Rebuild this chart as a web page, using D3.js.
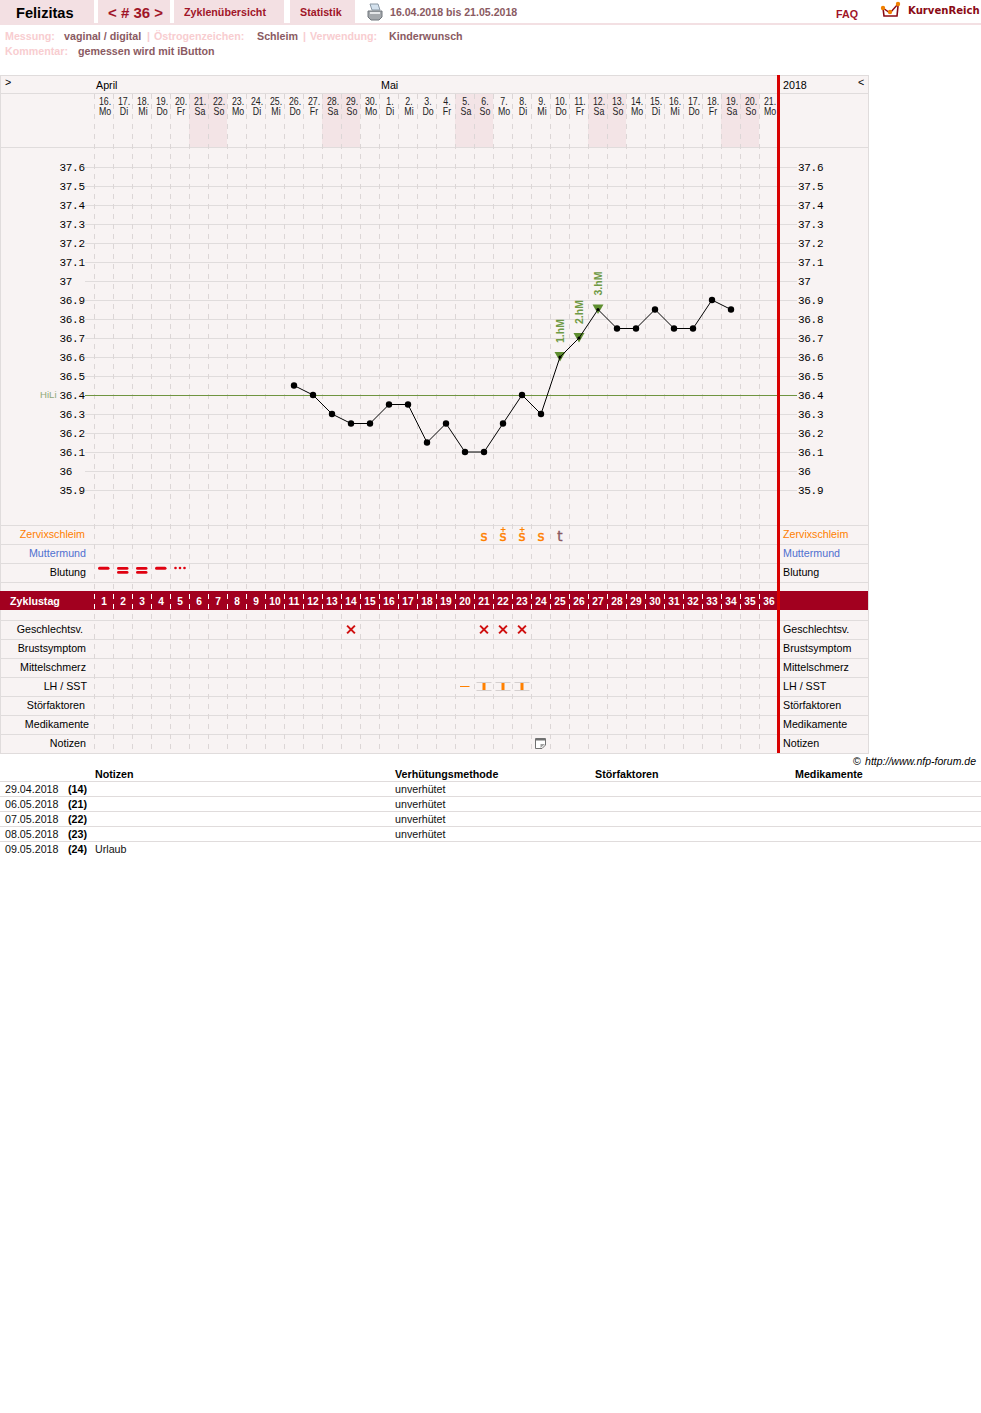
<!DOCTYPE html>
<html lang="de">
<head>
<meta charset="utf-8">
<title>Felizitas – Zyklus 36</title>
<script src="https://cdnjs.cloudflare.com/ajax/libs/d3/7.9.0/d3.min.js"></script>
<style>
  html, body { margin: 0; padding: 0; background: #fff; }
  svg { display: block; }
  text { font-family: "Liberation Sans", Arial, sans-serif; font-size: 10.7px; }
</style>
</head>
<body>
<svg id="chart" width="981" height="1413"></svg>
<script>
// Cycle data
const dayNumbers = ["16","17","18","19","20","21","22","23","24","25","26","27","28","29","30","1","2","3","4","5","6","7","8","9","10","11","12","13","14","15","16","17","18","19","20","21"];
const dayNames = ["Mo","Di","Mi","Do","Fr","Sa","So","Mo","Di","Mi","Do","Fr","Sa","So","Mo","Di","Mi","Do","Fr","Sa","So","Mo","Di","Mi","Do","Fr","Sa","So","Mo","Di","Mi","Do","Fr","Sa","So","Mo"];
const cycleDays = d3.range(1, 37);
const firstTempDay = 11;
const temperatures = [36.45,36.4,36.3,36.25,36.25,36.35,36.35,36.15,36.25,36.1,36.1,36.25,36.4,36.3,36.6,36.7,36.85,36.75,36.75,36.85,36.75,36.75,36.9,36.85];
const tempTicks = [37.6,37.5,37.4,37.3,37.2,37.1,37,36.9,36.8,36.7,36.6,36.5,36.4,36.3,36.2,36.1,36,35.9];
const coverLine = 36.4;
const highMeasures = [[25,"1.hM"],[26,"2.hM"],[27,"3.hM"]];
const mucus = [[21,"s",false],[22,"s",true],[23,"s",true],[24,"s",false],[25,"t",false]];
const bleeding = [[1,"mittel"],[2,"stark"],[3,"stark"],[4,"mittel"],[5,"schmier"]];
const intercourse = [14,21,22,23];
const lhFlat = [20];
const lhMarked = [21,22,23];
const noteDays = [24];
const upperRows = ["Zervixschleim","Muttermund","Blutung"];
const lowerRows = ["Geschlechtsv.","Brustsymptom","Mittelschmerz","LH / SST","Störfaktoren","Medikamente","Notizen"];
const tableHead = ["Notizen","Verhütungsmethode","Störfaktoren","Medikamente"];
const tableDates = ["29.04.2018","06.05.2018","07.05.2018","08.05.2018","09.05.2018"];
const tableCycleDays = ["(14)","(21)","(22)","(23)","(24)"];
const tableNotes = ["","","","","Urlaub"];
const tableMethods = ["unverhütet","unverhütet","unverhütet","unverhütet",""];

// Palette
const PANEL = "#f8f3f3", GRID = "#e0dcdc", WEEKEND = "#f3e4e6", TAB = "#f3e0e3";
const DARKRED = "#a2001f", TITLE = "#a01528", MUTED = "#8a5a62", PINK = "#f8cdd0";
const ORANGE = "#ff8000", BLUE = "#5070d0", GREEN = "#5f8f30", RED = "#d80000";

const svg = d3.select("#chart");
const x = d3.scaleBand().domain(cycleDays).range([94, 778]);
const cx = d => x(d) + x.bandwidth() / 2 + .5;
const y = d3.scaleLinear().domain([35.9, 37.6]).range([490, 167]);

function label(parent, str, px, py, opts = {}) {
  const t = parent.append("text").attr("x", px).attr("y", py).text(str)
    .attr("fill", opts.fill || "#000")
    .attr("font-weight", opts.bold ? "bold" : "normal");
  if (opts.size) t.style("font-size", opts.size + "px");
  if (opts.anchor) t.attr("text-anchor", opts.anchor);
  if (opts.family) t.style("font-family", opts.family);
  if (opts.style) t.attr("font-style", opts.style);
  return t;
}

// Navigation bar
const nav = svg.append("g");
[[0,94],[98,72],[174,110],[290,65]].forEach(([l, w]) =>
  nav.append("rect").attr("x", l).attr("y", 0).attr("width", w).attr("height", 23).attr("fill", TAB));
nav.append("rect").attr("x", 0).attr("y", 23).attr("width", 981).attr("height", 2).attr("fill", TAB);
label(nav, "Felizitas", 16, 18, {bold: true, size: 14.6});
label(nav, "< # 36 >", 108, 18, {bold: true, size: 15, fill: TITLE});
label(nav, "Zyklenübersicht", 184, 16, {bold: true, fill: TITLE});
label(nav, "Statistik", 300, 16, {bold: true, fill: TITLE});
label(nav, "16.04.2018 bis 21.05.2018", 390, 16, {bold: true, size: 10.6, fill: MUTED});
label(nav, "FAQ", 836, 18, {bold: true, fill: TITLE});
label(nav, "KurvenReich", 908, 14, {bold: true, size: 10.1, fill: "#8a0a14", family: "'DejaVu Sans', sans-serif"});

// Printer icon
const printer = nav.append("g").attr("transform", "translate(368,4)");
printer.append("path").attr("d", "M2 0h8l2 6H4z").attr("fill", "#d4e2ee").attr("stroke", "#8a98a4");
printer.append("path").attr("d", "M0 7h14v6l-3 3H3l-3-3z").attr("fill", "#a4a8ac").attr("stroke", "#70767c");
printer.append("rect").attr("x", 2).attr("y", 8).attr("width", 10).attr("height", 2).attr("fill", "#e4e6e8");

// Crown logo
const logo = nav.append("g").attr("transform", "translate(881,1)");
logo.append("path").attr("d", "M2 7 L3 15 H16 L17 5").attr("fill", "none").attr("stroke", "#8a0a14").attr("stroke-width", 1.6);
logo.append("path").attr("d", "M2 7 L9 12 L17 3").attr("fill", "none").attr("stroke", "#8a0a14").attr("stroke-width", 1.4);
[[2,7],[9,11],[17,3]].forEach(([a, b]) =>
  logo.append("circle").attr("cx", a).attr("cy", b).attr("r", 2.2).attr("fill", "#f08000"));

// Measurement settings
const meta = svg.append("g");
[["Messung:",5,40,1],["vaginal / digital",64,40,0],["|",147,40,1],["Östrogenzeichen:",154,40,1],["Schleim",257,40,0],
 ["|",303,40,1],["Verwendung:",310,40,1],["Kinderwunsch",389,40,0],["Kommentar:",5,55,1],["gemessen wird mit iButton",78,55,0]]
  .forEach(([s, l, b, pale]) => label(meta, s, l, b, {bold: true, fill: pale ? PINK : MUTED}));

// Chart panel, header and weekend shading
const panel = svg.append("g");
panel.append("rect").attr("x", 0.5).attr("y", 75.5).attr("width", 868).attr("height", 678)
  .attr("fill", PANEL).attr("stroke", GRID);
cycleDays.filter((d, i) => dayNames[i] === "Sa" || dayNames[i] === "So").forEach(d =>
  panel.append("rect").attr("x", x(d)).attr("y", 94).attr("width", x.bandwidth()).attr("height", 53).attr("fill", WEEKEND));

// Horizontal row rules
const rowRules = [93,147,525,544,563,582,620,639,658,677,696,715,734,753];
panel.selectAll("line.rule").data(rowRules).join("line").attr("class", "rule")
  .attr("x1", 0).attr("x2", 869).attr("y1", d => d + .5).attr("y2", d => d + .5).attr("stroke", GRID);

// Temperature grid, reaching from label to label
const gridG = panel.append("g");
gridG.selectAll("line").data(tempTicks).join("line")
  .attr("x1", 85).attr("x2", 797)
  .attr("y1", d => Math.round(y(d)) + .5).attr("y2", d => Math.round(y(d)) + .5)
  .attr("stroke", GRID);

// Vertical dashed day separators
const sepG = panel.append("g");
cycleDays.forEach(d => {
  sepG.append("line").attr("x1", x(d) + .5).attr("x2", x(d) + .5).attr("y1", 94).attr("y2", 753)
    .attr("stroke", "#dcd6d6").attr("stroke-dasharray", "5 5");
});

// Cycle-day band
const band = svg.append("g");
band.append("rect").attr("x", 0).attr("y", 591).attr("width", 868).attr("height", 19).attr("fill", DARKRED);
label(band, "Zyklustag", 10, 605, {bold: true, fill: "#fff"});
cycleDays.forEach(d => {
  band.append("line").attr("x1", x(d) + .5).attr("x2", x(d) + .5).attr("y1", 594).attr("y2", 610)
    .attr("stroke", "#fff").attr("stroke-dasharray", "5 5");
  label(band, d, cx(d), 605, {bold: true, fill: "#fff", anchor: "middle", size: 10.2});
});

// Month row and date header
const head = svg.append("g");
label(head, ">", 5, 86);
label(head, "April", 96, 89);
label(head, "Mai", 381, 89);
label(head, "2018", 783, 89);
label(head, "<", 858, 86);

// Narrow date captions: the regular face squeezed horizontally
function squeezed(str, px, py) {
  head.append("text").text(str).attr("text-anchor", "middle").attr("fill", "#222")
    .attr("transform", `translate(${px},${py}) scale(0.8,1)`)
    .style("font-size", "11px");
}
cycleDays.forEach((d, i) => {
  squeezed(dayNumbers[i] + ".", cx(d) + 1, 105);
  squeezed(dayNames[i], cx(d) + 1, 115);
});

// Temperature axes on both sides of the plot
const axisFont = "'Liberation Mono', monospace";
const styleAxis = (g, left) => {
  g.select(".domain").remove();
  g.selectAll("text").attr("x", left).attr("dy", "0.32em").attr("text-anchor", "start")
    .attr("fill", "#000").style("font-family", axisFont).style("font-size", "11px").style("letter-spacing", "-0.3px");
};
const gLeft = svg.append("g").attr("transform", "translate(85.5,-0.5)")
  .call(d3.axisLeft(y).tickValues(tempTicks).tickFormat(d => String(d)).tickSize(0));
styleAxis(gLeft, -26);
const gRight = svg.append("g").attr("transform", "translate(798,-0.5)")
  .call(d3.axisRight(y).tickValues(tempTicks).tickFormat(d => String(d)).tickSize(0));
styleAxis(gRight, 0);

// Cover line
const coverY = Math.round(y(coverLine)) + .5;
svg.append("line").attr("x1", 85).attr("x2", 797).attr("y1", coverY).attr("y2", coverY).attr("stroke", "#6f9440");
label(svg, "HiLi", 40, 398, {fill: "#8fa878", size: 9.6});

// High-measurement markers
const hmG = svg.append("g");
const tempAt = d => temperatures[d - firstTempDay];
highMeasures.forEach(([d, name]) => {
  const px = cx(d), py = y(tempAt(d));
  hmG.append("path").attr("d", d3.line()([[px - 5.5, py - 5], [px + 5.5, py - 5], [px, py + 4.5]])).attr("fill", GREEN);
  label(hmG, name, 0, 0, {bold: true, fill: "#6f9a45", size: 10.5})
    .attr("transform", `translate(${px + 4},${py - 14}) rotate(-90)`);
});

// Temperature curve
const curve = temperatures.map((t, i) => [cx(i + firstTempDay), y(t)]);
svg.append("path").attr("d", d3.line()(curve)).attr("fill", "none").attr("stroke", "#000").attr("stroke-width", 1);
const highDays = highMeasures.map(h => h[0]);
svg.append("g").selectAll("circle").data(temperatures).join("circle")
  .attr("cx", (t, i) => cx(i + firstTempDay)).attr("cy", t => y(t))
  .attr("r", (t, i) => highDays.includes(i + firstTempDay) ? 1.6 : 3.2)
  .attr("fill", "#000");

// Row captions on both sides of the plot
const caps = svg.append("g");
const upperRight = [85,86,86];
const lowerRight = [83,86,86,87,85,89,86];
const rowColor = {Zervixschleim: ORANGE, Muttermund: BLUE};
upperRows.forEach((r, i) => {
  const b = 538 + i * 19;
  label(caps, r, upperRight[i], b, {anchor: "end", fill: rowColor[r] || "#000"});
  label(caps, r, 783, b, {fill: rowColor[r] || "#000"});
});
lowerRows.forEach((r, i) => {
  const b = 633 + i * 19;
  label(caps, r, lowerRight[i], b, {anchor: "end"});
  label(caps, r, 783, b);
});

// Cervical mucus symbols
const marks = svg.append("g");
mucus.forEach(([d, s, plus]) => {
  const fill = s === "s" ? ORANGE : MUTED;
  label(marks, s, cx(d), 541, {anchor: "middle", size: 13.5, fill, family: "'DejaVu Sans', sans-serif"})
    .attr("stroke", fill).attr("stroke-width", 0.4);
  if (plus) {
    const c = Math.round(cx(d));
    marks.append("path").attr("d", `M${c - 2.5} 529.5H${c + 2.5}M${c} 527V532`)
      .attr("stroke", ORANGE).attr("fill", "none");
  }
});

// Bleeding strokes
bleeding.forEach(([d, kind]) => {
  const c = cx(d);
  const stroke = (yy, h) => marks.append("rect").attr("x", c - 6).attr("y", yy).attr("width", 11.5).attr("height", h)
    .attr("rx", 1.5).attr("fill", "#e00010");
  if (kind === "mittel") stroke(566.8, 3);
  if (kind === "stark") { stroke(567, 2.8); stroke(571, 2.8); }
  if (kind === "schmier") [-4.5, 0, 4.5].forEach(o =>
    marks.append("circle").attr("cx", c + o).attr("cy", 568).attr("r", 1.3).attr("fill", "#e00010"));
});

// Intercourse crosses
intercourse.forEach(d => {
  const c = cx(d), m = 629.5, r = 3.9;
  marks.append("path").attr("d", `M${c - r} ${m - r}L${c + r} ${m + r}M${c + r} ${m - r}L${c - r} ${m + r}`)
    .attr("stroke", "#d01010").attr("stroke-width", 2).attr("fill", "none");
});

// LH test marks
lhFlat.forEach(d => marks.append("rect").attr("x", cx(d) - 5).attr("y", 686).attr("width", 9.5).attr("height", 1).attr("fill", ORANGE));
lhMarked.forEach(d => {
  const c = Math.round(cx(d));
  [682, 690].forEach(b => marks.append("rect").attr("x", c - 7.5).attr("y", b).attr("width", 15).attr("height", 1).attr("fill", "#d4cfcf"));
  marks.append("rect").attr("x", c - 1.5).attr("y", 683).attr("width", 3).attr("height", 7).attr("fill", ORANGE);
});

// Note icons
noteDays.forEach(d => {
  const g = marks.append("g").attr("transform", `translate(${Math.round(cx(d)) - 6},738)`);
  g.append("path").attr("d", "M.5 .5H10.5V7L7 10.5H.5Z").attr("fill", "#fff").attr("stroke", "#707070");
  g.append("rect").attr("x", 1).attr("y", 1).attr("width", 9).attr("height", 1.5).attr("fill", "#707070");
  g.append("path").attr("d", "M5.5 10V6H10Z").attr("fill", "#a0a0a0");
});

// Separator between the cycle and the summary columns
svg.append("rect").attr("x", 777).attr("y", 75).attr("width", 3).attr("height", 678).attr("fill", RED);
svg.append("rect").attr("x", 780).attr("y", 591).attr("width", 88).attr("height", 19).attr("fill", DARKRED);

// Copyright
label(svg, "©", 853, 765);
label(svg, "http://www.nfp-forum.de", 976, 765, {anchor: "end", style: "italic", size: 10.5});

// Notes table
const table = svg.append("g");
const colX = [95, 395, 595, 795];
tableHead.forEach((h, i) => label(table, h, colX[i], 778, {bold: true}));
tableDates.forEach((dt, i) => {
  const b = 793 + i * 15;
  table.append("line").attr("x1", 0).attr("x2", 981).attr("y1", 781.5 + i * 15).attr("y2", 781.5 + i * 15).attr("stroke", GRID);
  label(table, dt, 5, b, {fill: "#111"});
  label(table, tableCycleDays[i], 68, b, {bold: true});
  label(table, tableNotes[i], 95, b, {fill: "#111"});
  label(table, tableMethods[i], 395, b, {fill: "#111"});
});
</script>
</body>
</html>
